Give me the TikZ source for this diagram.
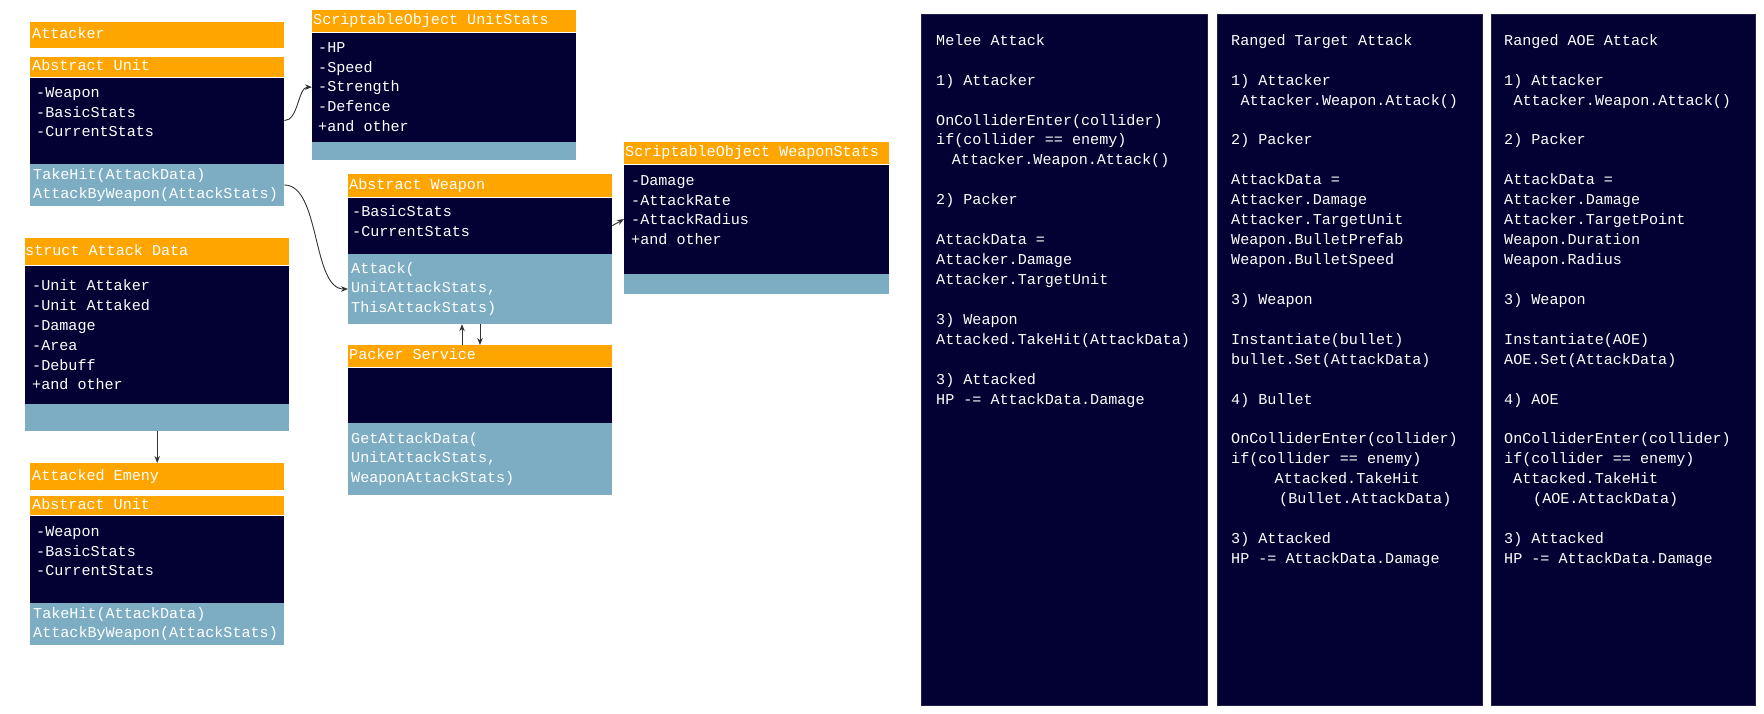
\documentclass[tikz,border=0pt]{standalone}
\usepackage{fontspec}
\setmonofont{Liberation Mono}
\usetikzlibrary{arrows.meta}
\definecolor{hdorange}{RGB}{255,165,0}
\definecolor{navy}{RGB}{3,0,52}
\definecolor{steel}{RGB}{124,173,194}
\definecolor{arrgray}{RGB}{51,51,51}
\newcommand{\code}{\ttfamily\fontsize{15.1}{19.8}\selectfont}
\newcommand{\pcode}{\ttfamily\fontsize{15.1}{19.93}\selectfont}

\begin{document}
\begin{tikzpicture}[x=1pt,y=-1pt,
	hd/.style={fill=hdorange,anchor=north west,inner sep=0pt},
	bd/.style={fill=navy,anchor=north west,inner sep=0pt},
	mt/.style={fill=steel,anchor=north west,inner sep=0pt},
	txt/.style={text=white,inner sep=0pt,align=left,font=\code},
	htxt/.style={txt,anchor=west,text height=10.5pt,text depth=3pt},
	ptxt/.style={txt,anchor=north west,font=\pcode},
	pnl/.style={fill=navy,draw=navy!75!gray,line width=0.6pt,anchor=north west,inner sep=0pt},
	arr/.style={draw=arrgray,line width=0.9pt,-{Stealth[length=7pt,width=5.5pt]}}]
	\useasboundingbox (0,0) rectangle (1764,714);
	% attacker
	\node[hd,minimum width=254pt,minimum height=26pt] (ath) at (30,22) {};
	\node[htxt] (atht) at ([xshift=2]ath.west) {Attacker};
	\node[hd,minimum width=254pt,minimum height=20pt] (au) at (30,57) {};
	\node[bd,minimum width=254pt,minimum height=86pt] (aub) at (au.south west) {};
	\node[mt,minimum width=254pt,minimum height=42pt] (aum) at (aub.south west) {};
	\node[htxt] (aut) at ([xshift=2]au.west) {Abstract Unit};
	\node[txt,anchor=north west] (aubt) at ([shift={(6,9.8)}]aub.north west) {-Weapon\\-BasicStats\\-CurrentStats};
	\node[txt,anchor=west] (aumt) at ([xshift=3]aum.west) {TakeHit(AttackData)\\AttackByWeapon(AttackStats)};
	% unit stats
	\node[hd,minimum width=264pt,minimum height=22pt] (ush) at (312,10) {};
	\node[bd,minimum width=264pt,minimum height=109pt] (usb) at (ush.south west) {};
	\node[mt,minimum width=264pt,minimum height=18pt] (usm) at (usb.south west) {};
	\node[htxt] (usht) at ([xshift=1]ush.west) {ScriptableObject UnitStats};
	\node[txt,anchor=north west] (usbt) at ([shift={(6,9.8)}]usb.north west) {-HP\\-Speed\\-Strength\\-Defence\\+and other};
	% weapon
	\node[hd,minimum width=264pt,minimum height=23pt] (awh) at (348,174) {};
	\node[bd,minimum width=264pt,minimum height=56pt] (awb) at (awh.south west) {};
	\node[mt,minimum width=264pt,minimum height=70pt] (awm) at (awb.south west) {};
	\node[htxt] (awht) at ([xshift=1]awh.west) {Abstract Weapon};
	\node[txt,anchor=north west] (awbt) at ([shift={(4,7.8)}]awb.north west) {-BasicStats\\-CurrentStats};
	\node[txt,anchor=west] (awmt) at ([xshift=3]awm.west) {Attack(\\UnitAttackStats,\\ThisAttackStats)};
	% packer
	\node[hd,minimum width=264pt,minimum height=22pt] (psh) at (348,345) {};
	\node[bd,minimum width=264pt,minimum height=55pt] (psb) at (psh.south west) {};
	\node[mt,minimum width=264pt,minimum height=72pt] (psm) at (psb.south west) {};
	\node[htxt] (psht) at ([xshift=1]psh.west) {Packer Service};
	\node[txt,anchor=west] (psmt) at ([xshift=3]psm.west) {GetAttackData(\\UnitAttackStats,\\WeaponAttackStats)};
	% weapon stats
	\node[hd,minimum width=265pt,minimum height=22pt] (wsh) at (624,142) {};
	\node[bd,minimum width=265pt,minimum height=109pt] (wsb) at (wsh.south west) {};
	\node[mt,minimum width=265pt,minimum height=20pt] (wsm) at (wsb.south west) {};
	\node[htxt] (wsht) at ([xshift=1]wsh.west) {ScriptableObject WeaponStats};
	\node[txt,anchor=north west] (wsbt) at ([shift={(7,10.8)}]wsb.north west) {-Damage\\-AttackRate\\-AttackRadius\\+and other};
	% attack data
	\node[hd,minimum width=264pt,minimum height=27pt] (sdh) at (25,238) {};
	\node[bd,minimum width=264pt,minimum height=138pt] (sdb) at (sdh.south west) {};
	\node[mt,minimum width=264pt,minimum height=27pt] (sdm) at (sdb.south west) {};
	\node[htxt] (sdht) at (sdh.west) {struct Attack Data};
	\node[txt,anchor=north west] (sdbt) at ([shift={(7,14.4)}]sdb.north west) {-Unit Attaker\\-Unit Attaked\\-Damage\\-Area\\-Debuff\\+and other};
	% attacked
	\node[hd,minimum width=254pt,minimum height=27pt] (aeh) at (30,463) {};
	\node[htxt] (aeht) at ([xshift=2]aeh.west) {Attacked Emeny};
	\node[hd,minimum width=254pt,minimum height=19pt] (au2) at (30,496) {};
	\node[bd,minimum width=254pt,minimum height=87pt] (au2b) at (au2.south west) {};
	\node[mt,minimum width=254pt,minimum height=42pt] (au2m) at (au2b.south west) {};
	\node[htxt] (au2t) at ([xshift=2]au2.west) {Abstract Unit};
	\node[txt,anchor=north west] (au2bt) at ([shift={(6,10.8)}]au2b.north west) {-Weapon\\-BasicStats\\-CurrentStats};
	\node[txt,anchor=west] (au2mt) at ([xshift=3]au2m.west) {TakeHit(AttackData)\\AttackByWeapon(AttackStats)};
	% panels
	\node[pnl,minimum width=286pt,minimum height=691pt] (melee) at (921,14) {};
	\node[pnl,minimum width=265pt,minimum height=691pt] (ranged) at (1217,14) {};
	\node[pnl,minimum width=264pt,minimum height=691pt] (aoe) at (1491,14) {};
	\node[ptxt] (meleet) at ([shift={(15,20.2)}]melee.north west) {Melee Attack\\~\\1) Attacker\\~\\OnColliderEnter(collider)\\if(collider == enemy)\\\hspace*{15.7pt}Attacker.Weapon.Attack()\\~\\2) Packer\\~\\AttackData =\\Attacker.Damage\\Attacker.TargetUnit\\~\\3) Weapon\\Attacked.TakeHit(AttackData)\\~\\3) Attacked\\HP -= AttackData.Damage};
	\node[ptxt] (rangedt) at ([shift={(14,20.2)}]ranged.north west) {Ranged Target Attack\\~\\1) Attacker\\\hspace*{9.3pt}Attacker.Weapon.Attack()\\~\\2) Packer\\~\\AttackData =\\Attacker.Damage\\Attacker.TargetUnit\\Weapon.BulletPrefab\\Weapon.BulletSpeed\\~\\3) Weapon\\~\\Instantiate(bullet)\\bullet.Set(AttackData)\\~\\4) Bullet\\~\\OnColliderEnter(collider)\\if(collider == enemy)\\\hspace*{43.5pt}Attacked.TakeHit\\\hspace*{48pt}(Bullet.AttackData)\\~\\3) Attacked\\HP -= AttackData.Damage};
	\node[ptxt] (aoet) at ([shift={(13,20.2)}]aoe.north west) {Ranged AOE Attack\\~\\1) Attacker\\\hspace*{9.3pt}Attacker.Weapon.Attack()\\~\\2) Packer\\~\\AttackData =\\Attacker.Damage\\Attacker.TargetPoint\\Weapon.Duration\\Weapon.Radius\\~\\3) Weapon\\~\\Instantiate(AOE)\\AOE.Set(AttackData)\\~\\4) AOE\\~\\OnColliderEnter(collider)\\if(collider == enemy)\\\hspace*{9pt}Attacked.TakeHit\\\hspace*{29pt}(AOE.AttackData)\\~\\3) Attacked\\HP -= AttackData.Damage};
	% connectors
	\draw[arr] (aub.east) .. controls +(14,0) and +(-14,0) .. (usb.west);
	\draw[arr] (aum.east) .. controls +(36,0) and +(-36,0) .. (awm.west);
	\draw[arr] (awb.east) -- (wsb.west);
	\draw[arr] ([xshift=114]psh.north west) -- ([xshift=114]awm.south west);
	\draw[arr] ([xshift=132]awm.south west) -- ([xshift=132]psh.north west);
	\draw[arr] (sdm.south) -- (aeh.north);
\end{tikzpicture}
\end{document}
